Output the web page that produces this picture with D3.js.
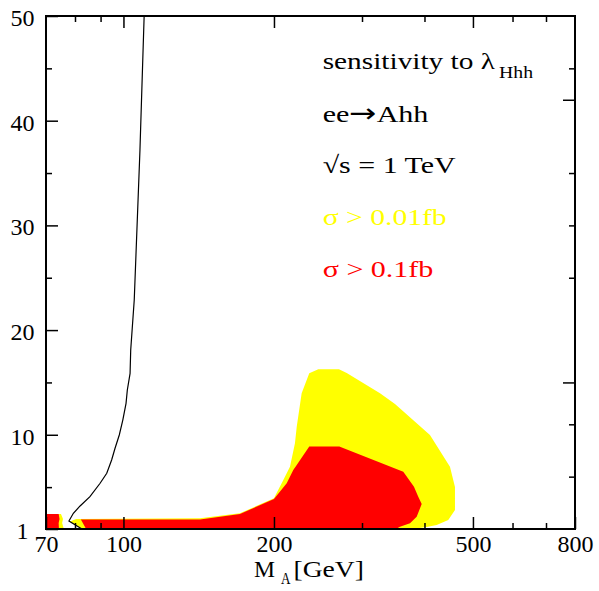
<!DOCTYPE html>
<html><head><meta charset="utf-8">
<script src="https://cdn.jsdelivr.net/npm/d3@7/dist/d3.min.js"></script>
<style>
body{margin:0;background:#fff;}
text{font-family:"Liberation Serif","Times New Roman",Times,serif;}
</style></head>
<body><svg id="c" width="599" height="591"></svg>
<script>
// ---- data (M_A in GeV, y = tan beta) ----
const xMajorTicks = [100, 200, 500];
const xMinorTicks = [80, 90, 300, 400, 600, 700];
const xTickLabels = [70, 100, 200, 500, 800];
const yMajorTicks = [10, 20, 30, 40, 50];
const yMinorTicks = [5, 15, 25, 35, 45];
const yTickLabels = [1, 10, 20, 30, 40, 50];
const rightMajorTicks = [42, 15];
const rightMinorTicks = [45, 35, 30, 25, 11, 6];

// sigma > 0.01 fb (yellow)
const yellowMA   = [78.2, 80.4, 142.3, 171.0, 200.0, 208.8, 215.3, 220.3, 222.1, 227.2, 235.3, 245.3, 269.8, 279.6, 325.9, 349.2, 410.2, 449.8, 460.3, 460.3, 446.3, 423.1, 404.1, 384.7, 354.1, 82.8];
const yellowTanb = [1.72, 1.96, 2.02, 2.50, 3.93, 5.68, 6.95, 9.19, 10.77, 13.96, 15.87, 16.25, 16.25, 15.90, 13.96, 12.94, 9.98, 6.95, 5.01, 2.81, 1.86, 1.38, 1.19, 1.05, 1.0, 1.0];
const yellowLeftMA   = [73.6, 75.0, 75.7, 75.4, 76.0, 73.6];
const yellowLeftTanb = [2.43, 2.43, 1.96, 1.57, 1.0, 1.0];

// sigma > 0.1 fb (red)
const redMA   = [82.2, 142.3, 171.0, 200.0, 212.1, 218.6, 222.1, 235.3, 270.2, 362.8, 381.1, 388.7, 394.9, 385.9, 374.2, 357.3, 350.8, 84.2];
const redTanb = [1.91, 1.91, 2.43, 3.87, 5.37, 6.64, 7.11, 8.88, 8.88, 6.47, 5.04, 4.09, 3.39, 2.17, 1.54, 1.22, 1.0, 1.0];
const redLeftMA   = [70, 74.2, 74.5, 74.2, 74.3, 70];
const redLeftTanb = [2.43, 2.43, 1.96, 1.57, 1.0, 1.0];

// black contour
const lineMA   = [82.6, 77.8, 79.4, 81.9, 85.7, 89.8, 92.6, 94.7, 96.2, 98.1, 99.7, 101.2, 101.8, 103.1, 103.4, 105.1, 107.9, 109.3, 110.0];
const lineTanb = [1.0, 1.76, 2.5, 3.2, 4.09, 5.37, 6.32, 7.59, 8.71, 9.98, 11.41, 13.0, 14.28, 15.87, 18.1, 22.9, 37.2, 45.8, 50.0];

// ---- drawing ----
const svg = d3.select("#c");
const x = d3.scaleLog().domain([70, 800]).range([46, 575]);
const y = d3.scaleLinear().domain([1, 50]).range([529, 16]);

const poly = (xs, ys) => d3.line().x((d, i) => x(xs[i])).y((d, i) => y(ys[i]))(xs) + "Z";
svg.append("path").attr("d", poly(yellowMA, yellowTanb)).attr("fill", "#ffff00");
svg.append("path").attr("d", poly(yellowLeftMA, yellowLeftTanb)).attr("fill", "#ffff00");
svg.append("path").attr("d", poly(redMA, redTanb)).attr("fill", "#ff0000");
svg.append("path").attr("d", poly(redLeftMA, redLeftTanb)).attr("fill", "#ff0000");

svg.append("path")
  .attr("d", d3.line().x((d, i) => x(lineMA[i])).y((d, i) => y(lineTanb[i]))(lineMA))
  .attr("fill", "none").attr("stroke", "#000").attr("stroke-width", 1.2);

// axes
function styleAxis(g, sw) {
  g.select(".domain").remove();
  g.selectAll(".tick line").attr("stroke", "#000").attr("stroke-width", sw);
}
const fs = 24;
// bottom
const gb = svg.append("g").attr("transform", "translate(0,529)")
  .call(d3.axisBottom(x).tickValues(xTickLabels).tickFormat(d3.format("d")).tickSizeInner(-12).tickSizeOuter(0).tickPadding(6));
styleAxis(gb, 1.5);
gb.selectAll("text").attr("font-size", fs).attr("fill", "#000").attr("font-family", null);
svg.append("g").attr("transform", "translate(0,529)")
  .call(d3.axisBottom(x).tickValues(xMinorTicks).tickFormat("").tickSizeInner(-6).tickSizeOuter(0)).call(g => styleAxis(g, 1.5));
// top
svg.append("g").attr("transform", "translate(0,16)")
  .call(d3.axisTop(x).tickValues(xMajorTicks).tickFormat("").tickSizeInner(-12).tickSizeOuter(0)).call(g => styleAxis(g, 1.5));
svg.append("g").attr("transform", "translate(0,16)")
  .call(d3.axisTop(x).tickValues(xMinorTicks).tickFormat("").tickSizeInner(-6).tickSizeOuter(0)).call(g => styleAxis(g, 1.5));
// left
const gl = svg.append("g").attr("transform", "translate(46,0)")
  .call(d3.axisLeft(y).tickValues(yTickLabels).tickFormat(d3.format("d")).tickSizeInner(-12).tickSizeOuter(0));
styleAxis(gl, 1.5);
gl.selectAll("text").attr("font-size", fs).attr("fill", "#000").attr("font-family", null)
  .attr("text-anchor", "middle").attr("x", -23.4).attr("dy", "0.4em");
svg.append("g").attr("transform", "translate(46,0)")
  .call(d3.axisLeft(y).tickValues(yMinorTicks).tickFormat("").tickSizeInner(-6).tickSizeOuter(0)).call(g => styleAxis(g, 1.5));
// right
svg.append("g").attr("transform", "translate(575,0)")
  .call(d3.axisRight(y).tickValues(rightMajorTicks).tickFormat("").tickSizeInner(-12).tickSizeOuter(0)).call(g => styleAxis(g, 1.5));
svg.append("g").attr("transform", "translate(575,0)")
  .call(d3.axisRight(y).tickValues(rightMinorTicks).tickFormat("").tickSizeInner(-6).tickSizeOuter(0)).call(g => styleAxis(g, 1.5));

// frame
svg.append("rect").attr("x", 46).attr("y", 16).attr("width", 529).attr("height", 513)
  .attr("fill", "none").attr("stroke", "#000").attr("stroke-width", 2);

// x label
svg.append("text").attr("x", 254).attr("y", 577).attr("font-size", fs)
  .attr("textLength", 21).attr("lengthAdjust", "spacingAndGlyphs").text("M");
svg.append("text").attr("x", 281).attr("y", 584).attr("font-size", 17)
  .attr("textLength", 9.5).attr("lengthAdjust", "spacingAndGlyphs").text("A");
svg.append("text").attr("x", 293.5).attr("y", 577).attr("font-size", fs)
  .attr("textLength", 70.5).attr("lengthAdjust", "spacingAndGlyphs").text("[GeV]");

// notes
function note(parts, yPos, color, width) {
  const t = svg.append("text").attr("x", 322.7).attr("y", yPos).attr("font-size", fs)
    .attr("fill", color).attr("textLength", width).attr("lengthAdjust", "spacingAndGlyphs");
  parts.forEach(p => {
    const s = t.append("tspan").text(p.t);
    if (p.arrow) s.attr("font-family", "DejaVu Sans").attr("font-size", 26);
  });
  return t;
}
note([{t: "sensitivity to λ"}], 69.3, "#000", 172.3);
svg.append("text").attr("x", 499).attr("y", 77.5).attr("font-size", 17)
  .attr("textLength", 34).attr("lengthAdjust", "spacingAndGlyphs").text("Hhh");
note([{t: "ee"}, {t: "→", arrow: true}, {t: "Ahh"}], 121.7, "#000", 105.7);
note([{t: "√s = 1 TeV"}], 172.7, "#000", 133);
note([{t: "σ > 0.01fb"}], 225, "#ffff00", 124);
note([{t: "σ > 0.1fb"}], 277.3, "#ff0000", 110.7);
</script></body></html>
